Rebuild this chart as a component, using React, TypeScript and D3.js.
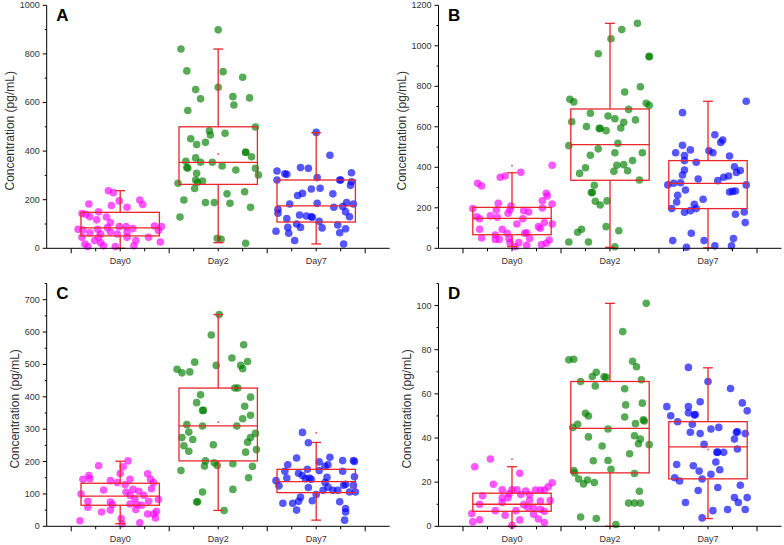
import React from "react";
import * as d3 from "d3";

const CATEGORIES = ["Day0", "Day2", "Day7"];
const PANEL_LABELS = ["A", "B", "C", "D"];
const Y_MAX = [1000, 1200, 750, 110];
const Y_MAJOR_STEP = [200, 200, 100, 20];
const Y_TITLE = "Concentration (pg/mL)";
const POINT_COLORS = ["#ff00ff", "#008000", "#0000ff"];

// box stats per category: [q1, median, q3, whiskerLow, whiskerHigh]
const BOX_A = [[51, 84, 148, 0, 237], [263, 354, 500, 23, 820], [108, 175, 281, 18, 476]];
const BOX_B = [[67, 148, 202, 8, 373], [336, 512, 688, 5, 1111], [196, 321, 433, 2, 726]];
const BOX_C = [[65, 93, 133, 8, 201], [202, 310, 427, 49, 654], [104, 138, 176, 19, 259]];
const BOX_D = [[6.8, 10, 15, 0, 27], [24.2, 44.4, 65.6, 0, 101], [21.5, 36, 47.4, 3.5, 71.8]];

// small marker values (mean) where visible
const MEAN_A = [100, 388, null];
const MEAN_B = [408, null, null];
const MEAN_C = [null, 322, 289];
const MEAN_D = [30.4, null, 34.8];

// points: [horizontal jitter in category units, value]
const A_DAY0 = [[-0.12,237],[-0.07,229],[-0.01,195],[-0.32,182],[0.20,199],[0.23,180],[-0.09,176],[0.07,169],[-0.39,143],[-0.22,150],[-0.35,140],[-0.31,130],[-0.14,129],[-0.24,117],[-0.43,78],[-0.38,75],[-0.23,78],[-0.13,85],[-0.10,106],[-0.01,89],[0.06,89],[0.13,81],[0.35,92],[0.42,89],[0.39,73],[-0.31,64],[-0.20,59],[-0.10,67],[0.07,66],[-0.03,59],[-0.39,45],[-0.26,32],[-0.22,45],[-0.20,23],[-0.36,18],[-0.33,7],[-0.17,10],[-0.05,7],[0.07,45],[0.16,32],[0.29,45],[0.41,26],[0.14,10]];
const A_DAY2 = [[-0.38,820],[-0.32,730],[-0.23,653],[-0.18,615],[-0.31,567],[-0.28,451],[-0.22,427],[-0.33,358],[-0.23,372],[-0.32,332],[-0.31,330],[-0.22,309],[-0.23,281],[-0.41,268],[-0.24,246],[-0.21,272],[-0.35,199],[-0.39,129],[0.00,899],[0.05,727],[0.25,704],[0.00,663],[0.15,624],[0.32,619],[0.16,590],[0.38,499],[-0.09,484],[-0.08,466],[0.07,473],[-0.13,436],[0.28,394],[0.28,396],[0.34,377],[-0.06,354],[-0.18,354],[0.04,339],[0.18,322],[0.38,329],[0.41,302],[-0.16,277],[0.09,224],[0.27,233],[-0.13,188],[-0.04,188],[0.12,185],[0.33,169],[-0.01,41],[0.03,37],[0.28,21]];
const A_DAY7 = [[0,477],[0.14,383],[-0.16,332],[-0.08,329],[-0.40,318],[-0.32,307],[-0.30,305],[0.36,311],[0.01,291],[0.24,281],[0.25,281],[-0.40,281],[0.35,259],[0.36,274],[-0.05,244],[0.04,247],[-0.14,226],[-0.19,217],[0.17,224],[-0.27,182],[0.01,185],[0.31,188],[0.38,182],[-0.39,161],[0.18,169],[0.27,172],[0.30,150],[0.34,130],[-0.39,144],[-0.10,133],[-0.05,130],[-0.04,128],[-0.17,137],[-0.30,122],[0.03,111],[-0.20,100],[0.22,96],[0.30,80],[-0.41,70],[-0.29,86],[0.06,84],[-0.28,62],[-0.16,86],[-0.22,32],[0.24,64],[0.28,18]];

const B_DAY0 = [[0.41,410],[-0.35,321],[-0.31,308],[-0.12,351],[-0.07,357],[0.09,375],[-0.40,196],[-0.14,222],[-0.01,209],[0.31,235],[0.35,272],[0.36,258],[0.41,219],[0.31,199],[-0.36,156],[-0.33,146],[-0.22,160],[-0.16,189],[-0.15,153],[-0.04,173],[-0.02,190],[0.12,186],[0.17,179],[0.11,146],[0.33,127],[0.27,107],[0.29,99],[0.41,120],[-0.33,94],[0.05,120],[-0.10,94],[-0.17,66],[-0.05,74],[0.13,74],[0.15,77],[-0.31,51],[-0.17,44],[-0.13,44],[-0.03,48],[0.18,49],[0.38,41],[0.35,25],[0.30,18],[-0.02,28],[0.07,28],[0.15,15],[0.03,8]];
const B_DAY2 = [[-0.41,736],[-0.37,723],[-0.39,625],[-0.24,601],[-0.20,667],[-0.42,507],[-0.20,459],[-0.25,398],[-0.31,370],[-0.19,275],[-0.33,79],[-0.29,94],[-0.42,31],[-0.22,31],[0.28,1111],[0.12,1080],[0.01,1035],[-0.12,961],[0.40,946],[0.40,948],[0.15,772],[0.31,798],[0.37,716],[0.40,706],[0.19,686],[-0.02,653],[0.05,640],[0.14,622],[0.26,634],[-0.11,591],[-0.10,592],[-0.04,581],[0.11,594],[0.08,518],[-0.12,491],[0.05,472],[0.33,472],[0.23,433],[0.07,410],[0.14,413],[0.04,380],[0.18,383],[0.30,337],[-0.16,311],[-0.18,275],[-0.15,232],[-0.10,214],[-0.03,234],[-0.04,107],[0.09,87],[0.05,8]];
const B_DAY7 = [[0.39,726],[-0.26,670],[0.07,561],[0.15,535],[0.13,523],[-0.26,509],[-0.18,486],[-0.33,472],[-0.24,458],[0.01,482],[0.05,472],[0.22,456],[-0.24,433],[-0.12,425],[0.27,403],[0.33,384],[0.29,374],[-0.24,387],[-0.26,362],[0.21,357],[0.16,351],[-0.10,342],[0.10,334],[-0.28,324],[-0.35,321],[-0.41,313],[0.39,313],[-0.23,288],[0.22,278],[0.25,281],[0.28,283],[-0.31,262],[-0.32,229],[-0.05,242],[-0.37,196],[-0.14,217],[-0.12,196],[-0.24,178],[-0.18,186],[0.37,179],[0.28,168],[0.38,127],[-0.17,74],[-0.36,38],[-0.04,38],[0.26,48],[-0.22,5],[0.07,12],[0.24,12]];

const C_DAY0 = [[0.08,202],[-0.22,187],[0.03,184],[0,163],[0.28,162],[-0.32,157],[-0.38,145],[-0.31,147],[0.31,145],[0.10,145],[-0.10,141],[-0.03,135],[0.05,129],[0.34,135],[-0.17,112],[0.13,114],[0.32,116],[0.19,108],[0.06,106],[-0.40,100],[0.10,96],[0.24,96],[0.15,85],[0.39,83],[-0.33,77],[0.29,77],[-0.10,75],[0.10,69],[-0.08,67],[0.17,67],[-0.33,59],[-0.19,44],[-0.10,50],[0.16,52],[0.22,65],[0.37,46],[0.28,38],[0.34,38],[0.36,26],[-0.41,17],[0.01,24],[0.20,11],[0.02,8]];
const C_DAY2 = [[-0.42,485],[-0.37,474],[-0.29,477],[-0.24,507],[-0.18,406],[-0.22,382],[-0.32,314],[-0.30,291],[-0.37,274],[-0.26,268],[-0.35,249],[-0.30,232],[-0.38,172],[-0.22,75],[-0.21,76],[0.01,654],[-0.07,591],[0.26,561],[0.14,520],[0.30,509],[-0.02,497],[0.23,497],[0.25,487],[0.17,427],[0.20,427],[0.33,399],[-0.16,358],[-0.15,358],[0.27,371],[0.33,343],[0.25,332],[-0.16,310],[0.19,310],[0.38,287],[0.33,274],[0.30,260],[-0.05,252],[0.39,237],[0.28,229],[-0.13,202],[-0.14,186],[-0.04,196],[-0.01,188],[0.15,193],[0.35,185],[0.31,150],[0.15,114],[-0.16,106],[0.06,49]];
const C_DAY7 = [[-0.14,290],[-0.08,258],[0.14,213],[-0.20,211],[0.03,199],[-0.29,190],[0.12,190],[0.09,185],[0.27,203],[0.38,203],[0.39,200],[-0.32,170],[-0.09,176],[0.03,172],[0.27,170],[-0.18,164],[-0.14,157],[-0.41,141],[-0.30,149],[-0.11,147],[-0.07,149],[-0.05,145],[0.11,151],[0.39,153],[-0.38,125],[-0.08,120],[0.09,135],[0.12,121],[0.28,127],[0.30,130],[0.38,127],[0.07,111],[0.17,111],[0.22,111],[0.34,106],[0.40,106],[0,98],[-0.16,90],[-0.18,77],[-0.34,71],[-0.24,71],[-0.04,79],[0.24,76],[-0.20,50],[0.30,55],[0.30,44],[0.29,19]];

const D_DAY0 = [[-0.22,30.5],[-0.38,27],[0.08,24],[-0.19,19],[0.41,19.7],[0.37,17.9],[-0.10,16.5],[0.00,16.5],[0.05,16.5],[0.14,16],[0.24,16.4],[0.29,16.4],[0.33,16.4],[-0.03,14.8],[0.09,14.4],[0.18,14.4],[-0.30,13.8],[-0.10,12.9],[-0.04,12.9],[-0.33,10],[0.18,11.8],[0.29,11.4],[0.39,11.7],[-0.10,10.8],[0.12,9.8],[0.16,8.6],[0.22,8.3],[-0.17,7.1],[0.04,7.1],[0.29,7.7],[0.33,6.8],[-0.41,5.8],[-0.07,5],[0.22,5.5],[-0.33,2.9],[-0.40,2],[0.08,2.9],[0.27,3.3],[0.33,1.7],[0,0.5]];
const D_DAY2 = [[-0.42,75.4],[-0.37,75.7],[-0.30,65.6],[-0.25,51.2],[-0.22,50],[-0.38,44.8],[-0.33,46.2],[-0.22,40.5],[-0.37,25.3],[-0.36,24.2],[-0.32,21.4],[-0.27,19.2],[-0.23,21],[-0.30,4.2],[0.37,101],[0.13,88.2],[0.23,74.8],[0.27,72.3],[-0.14,69.8],[-0.18,67.9],[-0.06,67.7],[-0.04,67.5],[0.32,66.4],[-0.15,63.6],[0.15,62.3],[0.16,55],[0.33,55.8],[0.15,49.5],[0.26,46.5],[0.35,47.7],[0.34,48.2],[-0.02,44.1],[0.25,41],[0.31,39.5],[0.29,37.4],[0.40,37],[-0.08,36.4],[0.20,32.9],[-0.17,29.7],[-0.02,29.8],[0.01,25.8],[0.25,23.9],[-0.16,19.8],[0.30,15.9],[0.19,10.5],[0.25,10.5],[0.31,10.5],[-0.14,3.5],[0.06,0.8]];
const D_DAY7 = [[-0.20,72],[0,65.6],[0.23,62.4],[-0.08,56.4],[0.35,55.9],[0.40,52.3],[-0.42,54.2],[-0.20,54.2],[-0.38,50.1],[-0.20,51.4],[-0.14,50.4],[-0.13,50.6],[-0.31,47.4],[-0.16,46.2],[0.03,44.1],[0.11,44.8],[-0.18,42.6],[-0.08,42],[0.29,42.6],[0.30,42.8],[0.38,42],[0.27,39.5],[-0.04,37.1],[0.30,35],[0.09,33.5],[0.10,33.6],[0.16,33.5],[0.08,29.1],[-0.32,28],[-0.15,27.4],[0.12,25.6],[-0.09,25],[0.03,23.6],[-0.34,22],[-0.29,20.5],[-0.06,21.4],[0.33,18.6],[0.10,17.6],[-0.10,16.2],[0.27,13],[0.40,13],[0.31,10.8],[-0.23,10.8],[0.05,7.1],[0.20,7.6],[0.38,7.6],[-0.06,3.8]];

const POINTS = [
  [A_DAY0, A_DAY2, A_DAY7],
  [B_DAY0, B_DAY2, B_DAY7],
  [C_DAY0, C_DAY2, C_DAY7],
  [D_DAY0, D_DAY2, D_DAY7],
];
const BOXES = [BOX_A, BOX_B, BOX_C, BOX_D];
const MEANS = [MEAN_A, MEAN_B, MEAN_C, MEAN_D];

const FONT = "Arial, 'Liberation Sans', Helvetica, sans-serif";
const RED = "#e8262b";

const LAYOUT = [
  { left: 46.7, top: 5.3, bottom: 248.3 },
  { left: 438.5, top: 5.3, bottom: 248.3 },
  { left: 46.7, top: 283.5, bottom: 526.3 },
  { left: 438.5, top: 283.5, bottom: 526.3 },
];
const AXIS_W = 343;

function Panel({ idx }: { idx: number }) {
  const { left, top, bottom } = LAYOUT[idx];
  const max = Y_MAX[idx];
  const step = Y_MAJOR_STEP[idx];
  const x = d3.scaleLinear().domain([0.25, 3.75]).range([left, left + AXIS_W]);
  const y = d3.scaleLinear().domain([0, max]).range([bottom, top]);
  const majorY = d3.range(0, max + 1e-9, step);
  const minorY = d3.range(step / 2, max + 1e-9, step);
  const xTicks = d3.range(0.5, 3.5001, 0.25);
  const labelW = String(d3.max(majorY)).length * 5.0;
  const titleX = left - 7.5 - labelW - 9;
  const titleY = (top + bottom) / 2 + 4;
  const bw = 0.4;
  const cap = 0.05;

  return (
    <g>
      {POINTS[idx].map((grp, ci) => (
        <g key={"p" + ci}>
          {grp.map((d, i) => (
            <circle key={i} cx={x(ci + 1 + d[0])} cy={y(d[1])} r={3.8} fill={POINT_COLORS[ci]} fillOpacity={0.66} />
          ))}
        </g>
      ))}
      {BOXES[idx].map((b, ci) => {
        const c = ci + 1;
        const [q1, med, q3, lo, hi] = b;
        return (
          <g key={"b" + ci} stroke={RED} strokeWidth={1.3} fill="none">
            <line x1={x(c)} x2={x(c)} y1={y(q3)} y2={y(hi)} />
            <line x1={x(c)} x2={x(c)} y1={y(q1)} y2={y(lo)} />
            <line x1={x(c - cap)} x2={x(c + cap)} y1={y(hi)} y2={y(hi)} />
            <line x1={x(c - cap)} x2={x(c + cap)} y1={y(lo)} y2={y(lo)} />
            <rect x={x(c - bw)} y={y(q3)} width={x(c + bw) - x(c - bw)} height={y(q1) - y(q3)} />
            <line x1={x(c - bw)} x2={x(c + bw)} y1={y(med)} y2={y(med)} />
          </g>
        );
      })}
      {MEANS[idx].map((m, ci) =>
        m == null ? null : <rect key={"m" + ci} x={x(ci + 1) - 0.8} y={y(m) - 0.8} width={1.6} height={1.6} fill={RED} opacity={0.8} />
      )}
      <line x1={left} x2={left} y1={top} y2={bottom} stroke="#000" strokeWidth={1} />
      {majorY.map((v) => (
        <g key={"yt" + v}>
          <line x1={left - 4} x2={left} y1={y(v)} y2={y(v)} stroke="#000" />
          <text x={left - 7} y={y(v)} dy="0.33em" textAnchor="end" fontSize={9} fontFamily={FONT} fill="#333">
            {v}
          </text>
        </g>
      ))}
      {minorY.map((v) => (
        <line key={"ym" + v} x1={left - 2} x2={left} y1={y(v)} y2={y(v)} stroke="#000" />
      ))}
      <line x1={left} x2={left + AXIS_W} y1={bottom} y2={bottom} stroke="#000" strokeWidth={1} />
      {xTicks.map((t) => {
        const major = Math.abs(t - Math.floor(t) - 0.5) < 1e-6;
        return <line key={"xt" + t} x1={x(t)} x2={x(t)} y1={bottom} y2={bottom + (major ? 5 : 3)} stroke="#000" />;
      })}
      {CATEGORIES.map((c, ci) => (
        <text key={c} x={x(ci + 1)} y={bottom + 15.5} textAnchor="middle" fontSize={9} fontFamily={FONT} fill="#333">
          {c}
        </text>
      ))}
      <text
        transform={`translate(${titleX},${titleY}) rotate(-90)`}
        textAnchor="middle"
        dy="0.35em"
        fontSize={12}
        fontFamily={FONT}
        fill="#333"
      >
        {Y_TITLE}
      </text>
      <text x={left + 9.5} y={top + 15.4} fontSize={17} fontWeight="bold" fontFamily={FONT} fill="#000">
        {PANEL_LABELS[idx]}
      </text>
    </g>
  );
}

export default function App() {
  return (
    <svg width={784} height={545} style={{ position: "absolute", left: 0, top: 0, background: "#fff" }}>
      <rect width={784} height={545} fill="#fff" />
      {[0, 1, 2, 3].map((i) => (
        <Panel key={i} idx={i} />
      ))}
    </svg>
  );
}
